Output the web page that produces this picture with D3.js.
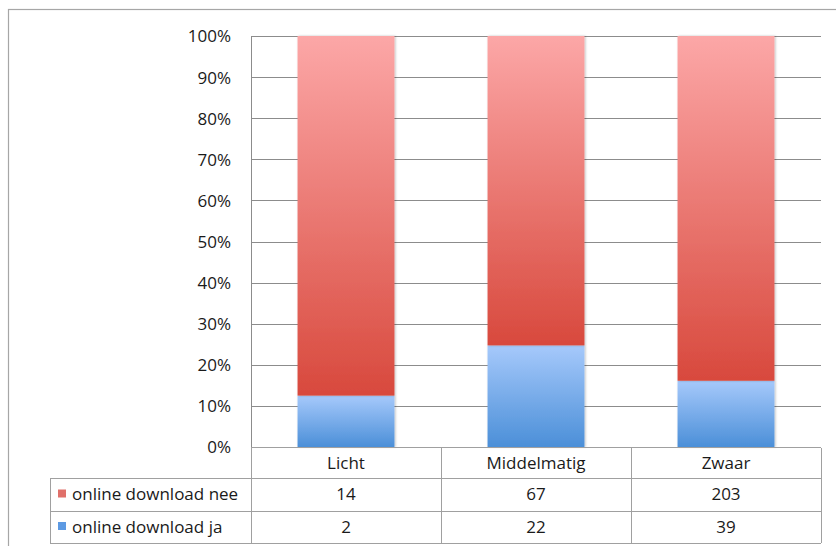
<!DOCTYPE html>
<html>
<head>
<meta charset="utf-8">
<script src="https://cdn.jsdelivr.net/npm/d3@7/dist/d3.min.js"></script>
<style>
  html, body { margin: 0; padding: 0; background: #fff; }
  svg { display: block; }
  text { font-family: "Open Sans", Lato, sans-serif; fill: #1a1a1a; }
</style>
</head>
<body>
<svg id="chart" width="836" height="546"></svg>
<script>
// Data: counts per category; bars show each series' share of the category total
const categories = ["Licht", "Middelmatig", "Zwaar"];
const seriesNames = ["online download nee", "online download ja"];
const neeValues = [14, 67, 203];
const jaValues = [2, 22, 39];
const yTicks = [0, 0.1, 0.2, 0.3, 0.4, 0.5, 0.6, 0.7, 0.8, 0.9, 1.0];

const svg = d3.select("#chart");
const W = 836, H = 546;
const FS = 17;

// Plot area
const plot = { left: 251, right: 821, top: 36, bottom: 447 };
const rowH = [448, 478, 511, 543];   // table row boundaries
const tableLeft = 50;

// Outer frame
svg.append("rect")
  .attr("x", 8.5).attr("y", 9.5)
  .attr("width", W).attr("height", H)
  .attr("fill", "none").attr("stroke", "#a6a6a6").attr("stroke-width", 1.2);

const x = d3.scaleBand().domain(categories).range([plot.left, plot.right]).paddingInner(0).paddingOuter(0);
const y = d3.scaleLinear().domain([0, 1]).range([plot.bottom, plot.top]);

// Gradients
const defs = svg.append("defs");
const gRed = defs.append("linearGradient").attr("id", "gRed").attr("x1", 0).attr("y1", 0).attr("x2", 0).attr("y2", 1);
gRed.append("stop").attr("offset", "0%").attr("stop-color", "#fca7a7");
gRed.append("stop").attr("offset", "100%").attr("stop-color", "#d8493d");
const gBlue = defs.append("linearGradient").attr("id", "gBlue").attr("x1", 0).attr("y1", 0).attr("x2", 0).attr("y2", 1);
gBlue.append("stop").attr("offset", "0%").attr("stop-color", "#a6c9fb");
gBlue.append("stop").attr("offset", "100%").attr("stop-color", "#4b8fd8");
const shadow = defs.append("filter").attr("id", "shadow").attr("x", "-10%").attr("y", "-5%").attr("width", "130%").attr("height", "115%");
shadow.append("feDropShadow").attr("dx", 1).attr("dy", 0).attr("stdDeviation", 1.2).attr("flood-color", "#000").attr("flood-opacity", 0.25);

// Gridlines
svg.append("g").selectAll("line").data(yTicks).join("line")
  .attr("x1", plot.left).attr("x2", plot.right)
  .attr("y1", d => Math.round(y(d)) + 0.5).attr("y2", d => Math.round(y(d)) + 0.5)
  .attr("stroke", "#8c8c8c").attr("stroke-width", 1);

// Y axis
const yAxis = d3.axisLeft(y).tickValues(yTicks).tickFormat(d3.format(".0%")).tickSize(0).tickPadding(20);
const yg = svg.append("g").attr("transform", `translate(${plot.left},0)`).call(yAxis);
yg.select(".domain").remove();
yg.selectAll("text").attr("font-size", FS).attr("fill", "#1a1a1a")
  .attr("font-family", "'Open Sans', Lato, sans-serif").attr("dy", "0.35em");
svg.append("line").attr("x1", plot.left + 0.5).attr("x2", plot.left + 0.5)
  .attr("y1", plot.top).attr("y2", plot.bottom).attr("stroke", "#8c8c8c");

// Stacked (100%) bars
const rows = categories.map((c, i) => {
  const total = neeValues[i] + jaValues[i];
  return { cat: c, ja: jaValues[i] / total, nee: neeValues[i] / total };
});
const stack = d3.stack().keys(["ja", "nee"])(rows);
const fills = { ja: "url(#gBlue)", nee: "url(#gRed)" };
const barW = x.bandwidth() * 0.51;
svg.append("g").selectAll("g").data(stack).join("g")
  .attr("fill", d => fills[d.key])
  .selectAll("rect").data(d => d).join("rect")
  .attr("x", d => x(d.data.cat) + (x.bandwidth() - barW) / 2)
  .attr("width", barW)
  .attr("y", d => y(d[1]))
  .attr("height", d => y(d[0]) - y(d[1]))
  .attr("filter", "url(#shadow)");

// Data table
const tbl = svg.append("g").attr("stroke", "#a0a0a0").attr("stroke-width", 1);
tbl.append("line").attr("x1", plot.left).attr("x2", plot.right).attr("y1", rowH[0] - 0.5).attr("y2", rowH[0] - 0.5);
[rowH[1], rowH[2], rowH[3]].forEach(yy => {
  tbl.append("line").attr("x1", tableLeft).attr("x2", plot.right).attr("y1", yy + 0.5).attr("y2", yy + 0.5);
});
const colEdges = [plot.left].concat(categories.map(c => x(c) + x.bandwidth()));
colEdges.forEach(xx => {
  tbl.append("line").attr("x1", xx + 0.5).attr("x2", xx + 0.5).attr("y1", rowH[0]).attr("y2", rowH[3]);
});
tbl.append("line").attr("x1", tableLeft + 0.5).attr("x2", tableLeft + 0.5).attr("y1", rowH[1]).attr("y2", rowH[3]);

// Category header
svg.append("g").selectAll("text").data(categories).join("text")
  .attr("x", d => x(d) + x.bandwidth() / 2)
  .attr("y", (rowH[0] + rowH[1]) / 2)
  .attr("dy", "0.35em").attr("text-anchor", "middle").attr("font-size", FS)
  .text(d => d);

// Series rows
const seriesRows = [
  { name: seriesNames[0], values: neeValues, color: "#e0706a" },
  { name: seriesNames[1], values: jaValues, color: "#5d9ae3" }
];
seriesRows.forEach((s, r) => {
  const cy = (rowH[r + 1] + rowH[r + 2]) / 2;
  svg.append("rect").attr("x", 58).attr("y", cy - 5).attr("width", 8).attr("height", 8).attr("fill", s.color);
  svg.append("text").attr("x", 72).attr("y", cy).attr("dy", "0.35em").attr("font-size", FS).text(s.name);
  svg.append("g").selectAll("text").data(s.values).join("text")
    .attr("x", (d, i) => x(categories[i]) + x.bandwidth() / 2)
    .attr("y", cy).attr("dy", "0.35em").attr("text-anchor", "middle").attr("font-size", FS)
    .text(d => d);
});
</script>
</body>
</html>
